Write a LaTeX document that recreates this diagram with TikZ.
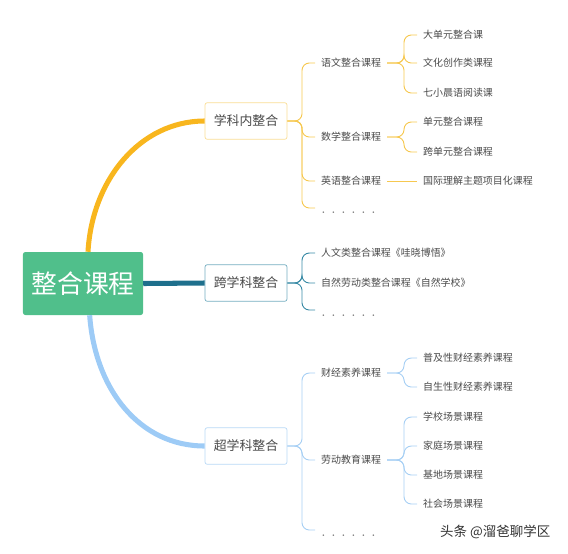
\documentclass[tikz,border=0pt]{standalone}
\usepackage{fontspec}
\setmainfont{Noto Sans CJK SC}
\usetikzlibrary{calc}
\definecolor{rootgreen}{HTML}{50BF8B}
\definecolor{branchorange}{HTML}{F8B61E}
\definecolor{branchteal}{HTML}{1E6F8C}
\definecolor{branchblue}{HTML}{9DCBF6}
\definecolor{lineorange}{HTML}{F6C850}
\definecolor{lineteal}{HTML}{3A8BA6}
\definecolor{lineblue}{HTML}{A8D0F4}
\definecolor{textgray}{HTML}{4A4A4A}

\begin{document}
\begin{tikzpicture}[
  x=0.03cm, y=-0.03cm,
  root/.style={fill=rootgreen, text=white, rounded corners=2pt, minimum width=3.6cm, minimum height=1.89cm, font=\fontsize{22}{26}\selectfont},
  topic/.style={draw, fill=white, rounded corners=2pt, minimum width=2.46cm, minimum height=1.1cm, line width=0.6pt, text=textgray, font=\fontsize{11}{13}\selectfont},
  sub/.style={anchor=west, inner xsep=0.18cm, inner ysep=1pt, text=textgray, font=\fontsize{8.5}{10}\selectfont},
  dotrow/.style={sub, text=black!55},
  trunk/.style={line width=4.3pt},
  twig/.style={line width=0.8pt, rounded corners=0.22cm}
]
\useasboundingbox (0,0) rectangle (568,553);

\node[root] (root) at (83,283.5) {整合课程};
\node[topic, draw=lineorange!60] (inner) at (246,121) {学科内整合};
\node[topic, draw=lineteal!70] (cross) at (246,283) {跨学科整合};
\node[topic, draw=lineblue!80] (trans) at (246,446) {超学科整合};

\node[sub] (yuwen) at (315,63) {语文整合课程};
\node[sub] (shuxue) at (315,137) {数学整合课程};
\node[sub] (yingyu) at (315,181) {英语整合课程};
\node[dotrow] (innerdots) at (315,213) {．．．．．．};
\node[sub] (renwen) at (315,253) {人文类整合课程《哇晓博悟》};
\node[sub] (ziran) at (315,283) {自然劳动类整合课程《自然学校》};
\node[dotrow] (crossdots) at (315,316) {．．．．．．};
\node[sub] (caijing) at (315,373) {财经素养课程};
\node[sub] (laodong) at (315,460) {劳动教育课程};
\node[dotrow] (transdots) at (315,536) {．．．．．．};

\node[sub] (dadanyuan) at (417,35) {大单元整合课};
\node[sub] (wenhua) at (417,63) {文化创作类课程};
\node[sub] (qixiao) at (417,93) {七小晨语阅读课};
\node[sub] (danyuan) at (417,122) {单元整合课程};
\node[sub] (kuadanyuan) at (417,152) {跨单元整合课程};
\node[sub] (guoji) at (417,181) {国际理解主题项目化课程};
\node[sub] (puji) at (417,358) {普及性财经素养课程};
\node[sub] (zisheng) at (417,387) {自生性财经素养课程};
\node[sub] (xuexiao) at (417,417) {学校场景课程};
\node[sub] (jiating) at (417,446) {家庭场景课程};
\node[sub] (jidi) at (417,475) {基地场景课程};
\node[sub] (shehui) at (417,504) {社会场景课程};

\node[anchor=west, text=black!80, font=\fontsize{11.5}{13}\selectfont] (mark) at (436,532) {头条 @溜爸聊学区};

\coordinate (jinner) at (302,121);
\coordinate (jcross) at (302,283);
\coordinate (jtrans) at (302,446);
\coordinate (jyuwen) at (404,63);
\coordinate (jshuxue) at (404,137);
\coordinate (jyingyu) at (404,181);
\coordinate (jcaijing) at (404,373);
\coordinate (jlaodong) at (404,460);
\coordinate (innerdotsend) at ([yshift=0.15cm]innerdots.west);
\coordinate (crossdotsend) at ([yshift=0.18cm]crossdots.west);
\coordinate (transdotsend) at ([yshift=0.18cm]transdots.west);

\draw[trunk, branchorange] ([xshift=0.15cm]root.north) .. controls (92,180) and (140,121) .. (inner.west);
\draw[trunk, branchteal] (root.east) -- (cross.west);
\draw[trunk, branchblue] ([xshift=0.2cm]root.south) .. controls (95,390) and (140,446) .. (trans.west);

\foreach \c in {yuwen.west,shuxue.west,yingyu.west,innerdotsend}
  \draw[twig, lineorange] (inner.east) -- (jinner) -- (jinner |- \c) -- (\c);
\foreach \c in {dadanyuan,wenhua,qixiao}
  \draw[twig, lineorange] (yuwen.east) -- (jyuwen) -- (jyuwen |- \c.west) -- (\c.west);
\foreach \c in {danyuan,kuadanyuan}
  \draw[twig, lineorange] (shuxue.east) -- (jshuxue) -- (jshuxue |- \c.west) -- (\c.west);
\draw[twig, lineorange] (yingyu.east) -- (guoji.west);

\foreach \c in {renwen.west,ziran.west,crossdotsend}
  \draw[twig, lineteal] (cross.east) -- (jcross) -- (jcross |- \c) -- (\c);

\foreach \c in {caijing.west,laodong.west,transdotsend}
  \draw[twig, lineblue] (trans.east) -- (jtrans) -- (jtrans |- \c) -- (\c);
\foreach \c in {puji,zisheng}
  \draw[twig, lineblue] (caijing.east) -- (jcaijing) -- (jcaijing |- \c.west) -- (\c.west);
\foreach \c in {xuexiao,jiating,jidi,shehui}
  \draw[twig, lineblue] (laodong.east) -- (jlaodong) -- (jlaodong |- \c.west) -- (\c.west);

\end{tikzpicture}
\end{document}
